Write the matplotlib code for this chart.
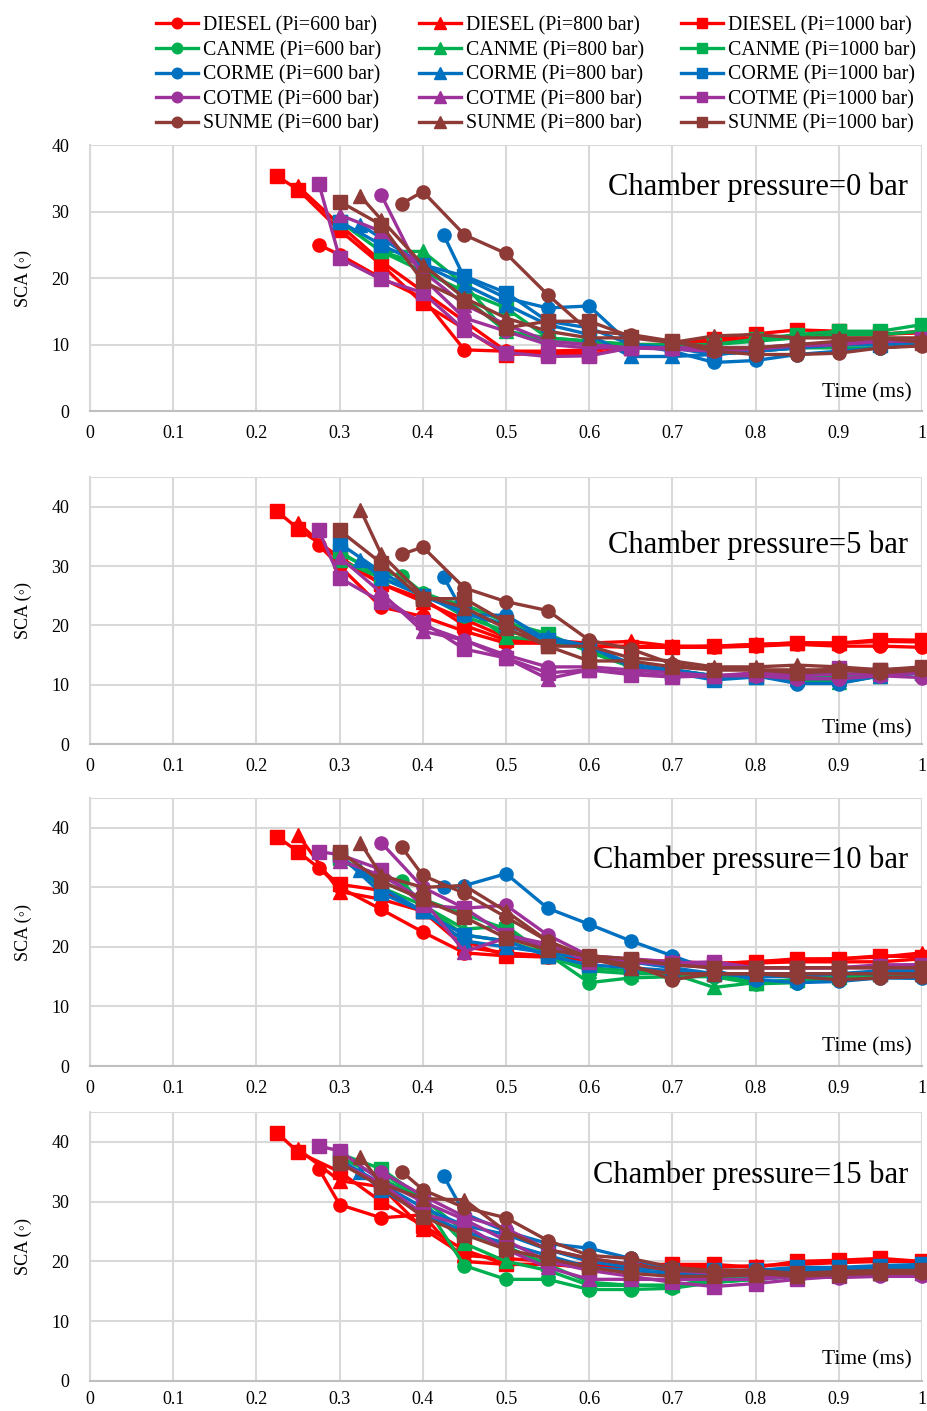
import numpy as np
import matplotlib
matplotlib.use("Agg")
import matplotlib.pyplot as plt

plt.rcParams['font.family'] = ['Liberation Serif', 'DejaVu Serif']

na = np.nan
# time grid (ms)
t = [0.225, 0.25, 0.275, 0.3, 0.325, 0.35, 0.375, 0.4, 0.425, 0.45,
     0.5, 0.55, 0.6, 0.65, 0.7, 0.75, 0.8, 0.85, 0.9, 0.95, 1.0]

fuels = ['DIESEL', 'CANME', 'CORME', 'COTME', 'SUNME']
pressures = [600, 800, 1000]
chamber = [0, 5, 10, 15]

# ---- chamber pressure 0 bar ----
p0_diesel_600 = [na, na, 25.0, 23.5, na, 20.0, na, 17.0, na, 9.2, 9.0, 9.0, 9.2, 9.8, 10.0, 10.5, 11.0, 11.2, 11.5, 11.5, 11.8]
p0_diesel_800 = [na, 33.8, na, 28.0, na, 22.5, na, 18.0, na, 13.5, 9.0, 8.8, 9.0, 10.0, 10.0, 10.5, 11.0, 11.2, 11.5, 11.5, 12.0]
p0_diesel_1000 = [35.3, 33.3, na, 27.2, na, 22.0, na, 16.2, na, na, 8.5, 8.7, 8.5, 9.5, 10.2, 10.8, 11.6, 12.2, 12.0, 11.6, 11.8]
p0_canme_600 = [na, na, na, na, na, 24.0, na, 22.0, na, 17.0, 12.0, 10.5, 10.0, 10.0, 9.5, 9.0, 9.0, 9.5, 9.5, 9.5, 10.0]
p0_canme_800 = [na, na, na, na, na, 24.0, na, 24.0, na, 19.0, 12.0, 11.0, 10.5, 10.0, 10.0, 10.0, 10.5, 11.0, 11.5, 11.5, 12.0]
p0_canme_1000 = [na, na, na, 28.5, na, 24.0, na, 21.0, na, 18.0, 15.5, 11.0, 10.5, 10.0, 9.8, 10.0, 10.8, 11.5, 12.0, 12.0, 13.0]
p0_corme_600 = [na, na, na, na, na, na, na, na, 26.5, 20.0, 17.0, 15.5, 15.8, 10.0, 9.0, 7.3, 7.6, 8.5, 9.0, 9.5, 10.0]
p0_corme_800 = [na, na, na, na, 28.0, 26.0, na, 22.0, na, 19.0, 16.0, 13.0, 11.5, 8.2, 8.2, 8.5, 9.0, 9.5, 10.0, 10.0, 10.5]
p0_corme_1000 = [na, na, na, 28.5, na, 25.0, na, 22.0, na, 20.3, 17.8, 13.5, 12.5, 10.0, 9.5, 8.5, 9.0, 9.5, 10.0, 10.0, 10.5]
p0_cotme_600 = [na, na, na, na, na, 32.5, na, 20.0, na, 14.0, 12.0, 10.0, 9.5, 9.5, 9.3, 9.0, 9.3, 9.8, 10.0, 10.5, 10.5]
p0_cotme_800 = [na, na, na, 29.5, na, 27.0, na, 21.0, na, 16.0, 13.0, 10.5, 10.0, 9.5, 9.5, 9.5, 9.5, 10.0, 10.0, 10.5, 10.5]
p0_cotme_1000 = [na, na, 34.2, 23.0, na, 19.8, na, 17.8, na, 12.2, 8.8, 8.2, 8.3, 9.5, 9.5, 9.3, 9.5, 9.8, 10.2, 10.5, 10.8]
p0_sunme_600 = [na, na, na, na, na, na, 31.2, 33.0, na, 26.5, 23.7, 17.5, 12.0, 11.5, 10.5, 9.0, 8.5, 8.5, 8.7, 9.5, 9.8]
p0_sunme_800 = [na, na, na, na, 32.3, 28.8, na, 22.0, na, 17.0, 14.0, 12.0, 11.0, 11.0, 10.3, 11.3, 11.5, 11.0, 11.0, 11.0, 11.0]
p0_sunme_1000 = [na, na, na, 31.5, na, 28.0, na, 19.5, na, 16.5, 12.5, 13.5, 13.5, 11.2, 10.5, 9.5, 9.5, 10.0, 10.5, 11.0, 10.3]

# ---- chamber pressure 5 bar ----
p5_diesel_600 = [na, na, 33.5, 30.0, na, 23.1, na, 21.5, na, 19.0, 17.0, 17.0, 16.5, 16.5, 16.3, 16.3, 16.5, 16.8, 16.5, 16.5, 16.3]
p5_diesel_800 = [na, 37.3, na, 31.0, na, 27.0, na, 24.0, na, 21.0, 18.0, 17.5, 17.0, 17.3, 16.5, 16.5, 16.8, 17.0, 17.0, 17.3, 17.2]
p5_diesel_1000 = [39.2, 36.3, na, 31.5, na, 27.0, na, 24.5, na, 20.0, 17.5, 17.0, 16.5, 16.3, 16.3, 16.5, 16.7, 17.1, 17.0, 17.6, 17.5]
p5_canme_600 = [na, na, na, 32.0, na, 29.0, 28.3, 25.5, na, 21.5, 19.0, 17.5, 16.0, 13.0, 12.5, 11.5, 11.5, 10.5, 10.3, 11.5, 12.0]
p5_canme_800 = [na, na, na, 31.0, na, 28.0, na, 25.5, na, 23.0, 18.0, 17.5, 16.0, 13.0, 12.0, 11.5, 11.5, 11.0, 10.5, 11.5, 12.0]
p5_canme_1000 = [na, na, na, 32.5, na, 28.0, na, 25.0, na, 23.5, 20.5, 18.6, 15.5, 13.0, 12.0, 11.5, 11.3, 11.5, 11.5, 12.0, 12.0]
p5_corme_600 = [na, na, na, na, na, na, na, na, 28.2, 21.8, 21.7, 17.5, 16.5, 13.0, 12.5, 11.5, 11.5, 10.2, 10.2, 11.5, 12.0]
p5_corme_800 = [na, na, na, na, 31.0, 28.0, na, 25.0, na, 22.5, 20.0, 18.0, 16.5, 13.5, 12.5, 11.5, 11.5, 11.0, 11.0, 11.5, 12.0]
p5_corme_1000 = [na, na, na, 33.8, na, 29.0, na, 25.0, na, 22.0, 20.0, 17.5, 16.5, 13.5, 12.0, 10.8, 11.3, 11.5, 12.5, 12.0, 12.0]
p5_cotme_600 = [na, na, na, na, na, 25.0, na, 20.0, na, 17.5, 15.0, 13.0, 13.0, 12.5, 12.0, 11.5, 11.5, 11.0, 11.0, 11.5, 11.2]
p5_cotme_800 = [na, na, na, 31.5, na, 25.5, na, 19.0, na, 17.5, 14.5, 11.0, 12.5, 12.0, 11.5, 11.5, 12.0, 11.5, 11.8, 11.8, 12.0]
p5_cotme_1000 = [na, na, 36.0, 28.0, na, 24.0, na, 20.5, na, 16.0, 14.5, 12.0, 12.5, 11.7, 11.3, 11.5, 11.8, 12.0, 12.8, 12.5, 12.5]
p5_sunme_600 = [na, na, na, na, na, na, 32.0, 33.2, na, 26.3, 24.0, 22.5, 17.5, 16.0, 13.5, 12.5, 12.5, 12.5, 12.5, 12.0, 12.5]
p5_sunme_800 = [na, na, na, na, 39.5, 32.0, na, 25.0, na, 23.0, 19.5, 16.5, 16.5, 14.5, 14.0, 13.0, 13.0, 13.3, 13.0, 12.5, 12.8]
p5_sunme_1000 = [na, na, na, 36.0, na, 30.5, na, 24.5, na, 24.5, 20.5, 16.5, 14.0, 14.0, 13.0, 12.5, 12.5, 12.0, 12.3, 12.5, 13.0]

# ---- chamber pressure 10 bar ----
p10_diesel_600 = [na, na, 33.3, 30.0, na, 26.3, na, 22.5, na, 19.0, 18.5, 18.3, 17.8, 17.3, 17.3, 17.0, 17.3, 17.5, 17.5, 17.5, 18.0]
p10_diesel_800 = [na, 38.8, na, 29.3, na, 28.0, na, 26.0, na, 20.0, 19.0, 18.5, 18.0, 17.5, 17.5, 17.2, 17.5, 17.8, 18.0, 18.3, 19.0]
p10_diesel_1000 = [38.5, 36.0, na, 30.5, na, 29.5, na, 26.0, na, 21.0, 18.5, 18.5, 18.2, 17.8, 17.6, 17.2, 17.5, 18.0, 18.0, 18.5, 18.3]
p10_canme_600 = [na, na, na, na, na, na, 31.0, 27.0, na, 22.0, 21.0, 18.8, 14.0, 14.8, 15.0, 15.0, 13.8, 14.0, 14.5, 15.0, 15.3]
p10_canme_800 = [na, na, na, 35.0, na, 30.0, na, 27.0, na, 23.0, 23.5, 18.5, 16.0, 15.5, 15.5, 13.2, 14.0, 14.5, 15.0, 15.5, 16.0]
p10_canme_1000 = [na, na, na, 35.0, na, 31.0, na, 28.0, na, 25.5, 23.0, 19.0, 16.5, 16.0, 15.5, 15.5, 14.0, 14.5, 15.0, 15.5, 16.0]
p10_corme_600 = [na, na, na, na, na, na, na, na, 30.0, 30.3, 32.3, 26.5, 23.8, 21.0, 18.5, 16.0, 14.5, 14.0, 14.2, 14.8, 14.7]
p10_corme_800 = [na, na, na, na, 33.0, 30.0, na, 26.0, na, 21.0, 20.0, 19.0, 18.0, 17.5, 16.5, 15.5, 15.5, 15.5, 15.5, 16.0, 16.0]
p10_corme_1000 = [na, na, na, 35.5, na, 29.0, na, 26.0, na, 22.0, 21.0, 18.5, 17.0, 16.5, 16.0, 15.5, 15.0, 15.0, 15.5, 15.5, 15.5]
p10_cotme_600 = [na, na, na, na, na, 37.5, na, 30.0, na, 26.5, 27.0, 22.0, 18.5, 18.0, 17.5, 17.0, 16.5, 16.5, 16.5, 16.5, 16.5]
p10_cotme_800 = [na, na, na, 34.5, na, 32.0, na, 28.0, na, 19.2, 21.5, 20.0, 18.5, 17.5, 17.0, 16.5, 16.5, 16.5, 16.5, 17.0, 17.0]
p10_cotme_1000 = [na, na, 36.0, 35.5, na, 33.0, na, 27.0, na, 26.5, 22.0, 20.5, 17.5, 17.8, 17.3, 17.5, 16.5, 16.5, 16.5, 16.8, 17.0]
p10_sunme_600 = [na, na, na, na, na, na, 36.7, 32.0, na, 29.0, 25.0, 21.0, 18.2, 17.0, 14.5, 15.5, 15.5, 15.0, 14.5, 14.8, 15.0]
p10_sunme_800 = [na, na, na, na, 37.5, 32.0, na, 30.0, na, 30.3, 26.0, 21.0, 18.0, 16.5, 15.5, 15.5, 15.5, 15.5, 15.5, 15.5, 15.5]
p10_sunme_1000 = [na, na, na, 36.0, na, 31.0, na, 28.0, na, 25.0, 21.5, 19.5, 18.5, 18.0, 17.0, 16.5, 16.5, 16.5, 16.5, 16.5, 16.5]

# ---- chamber pressure 15 bar ----
p15_diesel_600 = [na, na, 35.5, 29.5, na, 27.3, na, 27.8, na, 20.0, 19.5, 19.5, 19.0, 19.0, 18.8, 18.5, 18.5, 18.5, 18.5, 18.3, 18.0]
p15_diesel_800 = [na, 38.8, na, 33.5, na, 32.5, na, 25.5, na, 21.0, 20.5, 20.0, 19.5, 19.5, 19.3, 19.0, 19.3, 19.5, 19.8, 20.0, 20.0]
p15_diesel_1000 = [41.5, 38.3, na, 35.0, na, 30.0, na, 26.0, na, 21.9, 19.5, 19.5, 19.5, 19.5, 19.5, 19.5, 19.0, 20.0, 20.2, 20.5, 20.0]
p15_canme_600 = [na, na, na, na, na, 35.0, na, 30.0, na, 19.3, 17.0, 17.0, 15.3, 15.3, 15.5, 16.5, 17.0, 17.5, 17.8, 18.0, 18.0]
p15_canme_800 = [na, na, na, 37.5, na, 34.0, na, 30.0, na, 23.0, 20.0, 18.5, 16.0, 16.0, 16.0, 16.5, 17.0, 17.5, 17.8, 18.0, 18.0]
p15_canme_1000 = [na, na, na, 38.0, na, 35.5, na, 30.5, na, 25.0, 22.5, 19.5, 16.5, 16.0, 16.0, 17.0, 17.5, 18.0, 18.0, 18.3, 18.5]
p15_corme_600 = [na, na, na, na, na, na, na, na, 34.3, 28.0, 25.0, 23.0, 22.2, 20.5, 18.5, 18.0, 18.0, 18.0, 18.0, 18.0, 18.5]
p15_corme_800 = [na, na, na, na, 35.0, 32.0, na, 28.0, na, 25.0, 23.0, 21.0, 19.0, 18.5, 18.0, 18.0, 18.0, 18.5, 18.5, 19.0, 19.0]
p15_corme_1000 = [na, na, na, 37.0, na, 33.0, na, 29.0, na, 26.0, 24.5, 22.0, 20.0, 19.0, 18.5, 18.5, 18.5, 19.0, 19.0, 19.3, 19.5]
p15_cotme_600 = [na, na, na, na, na, 35.0, na, 31.0, na, 27.5, 25.5, 22.0, 20.5, 19.5, 18.5, 18.0, 17.5, 17.5, 17.3, 17.5, 17.5]
p15_cotme_800 = [na, na, na, 36.5, na, 33.0, na, 28.0, na, 26.0, 22.0, 19.0, 17.0, 17.0, 17.0, 17.0, 17.0, 17.5, 17.8, 18.0, 18.0]
p15_cotme_1000 = [na, na, 39.3, 38.5, na, 33.5, na, 30.0, na, 27.0, 23.5, 20.0, 18.5, 17.5, 16.5, 15.8, 16.3, 17.0, 17.5, 18.0, 18.0]
p15_sunme_600 = [na, na, na, na, na, na, 35.0, 32.0, na, 29.0, 27.3, 23.5, 21.0, 20.5, 19.0, 18.5, 18.5, 18.0, 18.0, 18.0, 18.0]
p15_sunme_800 = [na, na, na, na, 37.5, 33.0, na, 30.5, na, 30.3, 25.0, 22.0, 20.5, 19.5, 18.5, 18.3, 18.0, 17.5, 17.8, 18.0, 18.5]
p15_sunme_1000 = [na, na, na, 36.5, na, 32.5, na, 27.5, na, 24.5, 22.0, 20.5, 19.0, 18.0, 17.5, 17.5, 17.8, 18.0, 18.3, 18.5, 18.5]

panels = [
    [[p0_diesel_600, p0_diesel_800, p0_diesel_1000], [p0_canme_600, p0_canme_800, p0_canme_1000],
     [p0_corme_600, p0_corme_800, p0_corme_1000], [p0_cotme_600, p0_cotme_800, p0_cotme_1000],
     [p0_sunme_600, p0_sunme_800, p0_sunme_1000]],
    [[p5_diesel_600, p5_diesel_800, p5_diesel_1000], [p5_canme_600, p5_canme_800, p5_canme_1000],
     [p5_corme_600, p5_corme_800, p5_corme_1000], [p5_cotme_600, p5_cotme_800, p5_cotme_1000],
     [p5_sunme_600, p5_sunme_800, p5_sunme_1000]],
    [[p10_diesel_600, p10_diesel_800, p10_diesel_1000], [p10_canme_600, p10_canme_800, p10_canme_1000],
     [p10_corme_600, p10_corme_800, p10_corme_1000], [p10_cotme_600, p10_cotme_800, p10_cotme_1000],
     [p10_sunme_600, p10_sunme_800, p10_sunme_1000]],
    [[p15_diesel_600, p15_diesel_800, p15_diesel_1000], [p15_canme_600, p15_canme_800, p15_canme_1000],
     [p15_corme_600, p15_corme_800, p15_corme_1000], [p15_cotme_600, p15_cotme_800, p15_cotme_1000],
     [p15_sunme_600, p15_sunme_800, p15_sunme_1000]],
]

colors = ['#FF0000', '#00B050', '#0070C0', '#9E329B', '#8E3A36']
markers = ['o', '^', 's']

fig = plt.figure(figsize=(9.28, 14.11), dpi=100)

# axes boxes [left, bottom, width, height]
boxes = [
    [0.097, 0.7087, 0.8966, 0.1885],
    [0.097, 0.4727, 0.8966, 0.1892],
    [0.097, 0.2445, 0.8966, 0.1899],
    [0.097, 0.0213, 0.8966, 0.1906],
]
ytops = [40, 45, 45, 45]
title_y = [0.842, 0.745, 0.769, 0.766]
time_y = [0.068, 0.056, 0.071, 0.078]
xpad = [10, 10, 10, 7]

tt = np.array(t)
handles = {}
for k, ax_box in enumerate(boxes):
    ax = fig.add_axes(ax_box)
    for i, fuel in enumerate(fuels):
        for j, p in enumerate(pressures):
            y = np.array(panels[k][i][j], dtype=float)
            ok = ~np.isnan(y)
            ln, = ax.plot(tt[ok], y[ok], color=colors[i], marker=markers[j],
                          markersize=9.5 if j != 1 else 10, lw=2.4,
                          label=f'{fuel} (Pi={p} bar)', clip_on=False, zorder=3)
            handles[(i, j)] = ln
    ax.set_xlim(0, 1)
    ax.set_ylim(0, ytops[k])
    ax.set_xticks(np.arange(0, 1.01, 0.1))
    ax.set_xticklabels(['0', '0.1', '0.2', '0.3', '0.4', '0.5', '0.6', '0.7', '0.8', '0.9', '1'])
    ax.set_yticks(np.arange(0, 41, 10))
    if k > 0:
        ax.set_yticks([45], minor=True)
        ax.yaxis.grid(True, which='minor', color='#d9d9d9', lw=1.5)
    ax.grid(True, color='#d9d9d9', lw=1.5, zorder=0)
    ax.set_axisbelow(True)
    ax.tick_params(length=0, labelsize=13, which='both')
    ax.tick_params(axis='y', pad=15)
    ax.tick_params(axis='x', pad=xpad[k])
    for s in ['top', 'right']:
        ax.spines[s].set_visible(False)
    ax.spines['left'].set_color('#d9d9d9')
    ax.spines['bottom'].set_color('#bfbfbf')
    ax.spines['left'].set_linewidth(1.5)
    ax.spines['bottom'].set_linewidth(1.5)
    ax.set_ylabel('SCA (◦)', fontsize=13, labelpad=14)
    ax.text(0.983, title_y[k], f'Chamber pressure={chamber[k]} bar', transform=ax.transAxes,
            ha='right', va='center', fontsize=22, zorder=5)
    ax.text(0.988, time_y[k], 'Time (ms)', transform=ax.transAxes,
            ha='right', va='center', fontsize=15.5, zorder=5)

# legend: columns by injection pressure
leg_handles = [handles[(i, j)] for j in range(3) for i in range(5)]
fig.legend(handles=leg_handles, labels=[h.get_label() for h in leg_handles],
           ncol=3, loc='upper right', bbox_to_anchor=(1.0, 0.997), frameon=False,
           fontsize=14.3, handlelength=2.1, handletextpad=0.25, columnspacing=1.9,
           labelspacing=0.27, borderaxespad=0.2, markerscale=0.8)

fig.savefig('out.png', dpi=100)
